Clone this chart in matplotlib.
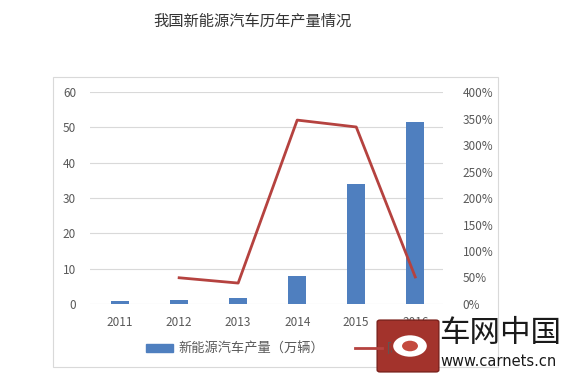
import matplotlib

matplotlib.use("Agg")
import matplotlib.pyplot as plt
from matplotlib.patches import Rectangle, FancyBboxPatch, Circle, Patch
from matplotlib.lines import Line2D
from matplotlib.ticker import FuncFormatter

plt.rcParams["font.family"] = ["Noto Sans CJK SC", "DejaVu Sans"]

years = ["2011", "2012", "2013", "2014", "2015", "2016"]
output = [0.8, 1.2, 1.7, 7.8, 34.0, 51.6]          # 万辆
growth_years = ["2012", "2013", "2014", "2015", "2016"]
growth = [49.5, 39.5, 347, 334, 51]                  # %

BAR = "#4f7fbf"
LINE = "#b5423f"
GRID = "#d9d9d9"
TXT = "#595959"

fig = plt.figure(figsize=(5.69, 3.78), dpi=100)
fig.patch.set_facecolor("white")

# outer chart frame
fig.patches.append(Rectangle((53 / 569, 1 - 367 / 378), 445 / 569, 290 / 378,
                             transform=fig.transFigure, fill=False,
                             edgecolor=GRID, lw=0.8))

ax = fig.add_axes([90 / 569, 1 - 304 / 378, 353 / 569, 212 / 378])
x = list(range(len(years)))
ax.bar(x, output, width=0.31, color=BAR, zorder=2)
ax.set_xlim(-0.51, 5.47)
ax.set_ylim(0, 60)
ax.set_yticks(range(0, 61, 10))
ax.set_xticks(x)
ax.set_xticklabels(years)
ax.grid(axis="y", color=GRID, lw=0.8, zorder=0)
for s in ax.spines.values():
    s.set_visible(False)
ax.tick_params(axis="both", length=0, colors=TXT, labelsize=8.5)
ax.tick_params(axis="y", pad=10)
ax.tick_params(axis="x", pad=9)

ax2 = ax.twinx()
gx = [years.index(y) for y in growth_years]
ax2.plot(gx, growth, color=LINE, lw=2, zorder=3)
ax2.set_ylim(0, 400)
ax2.set_yticks(range(0, 401, 50))
ax2.yaxis.set_major_formatter(FuncFormatter(lambda v, _: f"{v:.0f}%"))
for s in ax2.spines.values():
    s.set_visible(False)
ax2.tick_params(axis="y", length=0, colors=TXT, labelsize=8.5, pad=14)

fig.text(252 / 569, 1 - 21 / 378, "我国新能源汽车历年产量情况", ha="center", va="center",
         fontsize=11, color="#333333")

handles = [Patch(color=BAR), Line2D([0], [0], color=LINE, lw=2)]
fig.legend(handles, ["新能源汽车产量（万辆）", "同比"], ncol=2, frameon=False,
           loc="center", bbox_to_anchor=(280 / 569, 1 - 349 / 378), fontsize=9.5,
           labelcolor=TXT, handlelength=2.0, handleheight=0.6, columnspacing=2.4,
           handletextpad=0.4)

# watermark
fig.patches.append(FancyBboxPatch((380 / 569, 1 - 370 / 378), 56 / 569, 48 / 378,
                                  boxstyle="round,pad=0.005", transform=fig.transFigure,
                                  facecolor="#a3332c", edgecolor="#7a1f1a", lw=1, zorder=5))
fig.patches.append(Circle((410 / 569, 1 - 346 / 378), 0.032, transform=fig.transFigure,
                          facecolor="white", edgecolor="#a3332c", lw=2, zorder=6))
fig.patches.append(Circle((410 / 569, 1 - 346 / 378), 0.014, transform=fig.transFigure,
                          facecolor="#c44a3f", edgecolor="none", zorder=7))
fig.text(500 / 569, 1 - 333 / 378, "车网中国", ha="center", va="center", fontsize=22,
         color="#1a1a1a", zorder=8)
fig.text(499 / 569, 1 - 362 / 378, "www.carnets.cn", ha="center", va="center", fontsize=10.5,
         color="#1a1a1a", family="DejaVu Sans", zorder=8)

fig.savefig("out.png", dpi=100)
